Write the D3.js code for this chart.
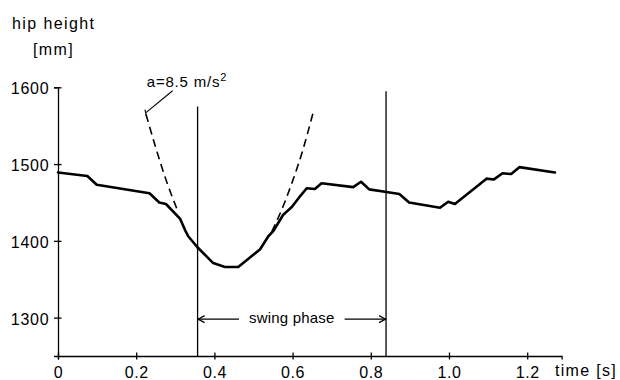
<!DOCTYPE html>
<html>
<head>
<meta charset="utf-8">
<script src="https://cdn.jsdelivr.net/npm/d3@7"></script>
<style>
  html, body { margin: 0; padding: 0; background: #fff; }
  svg { display: block; }
  text { font-family: "Liberation Sans", Arial, sans-serif; fill: #000; }
</style>
</head>
<body>
<svg id="chart" width="620" height="380"></svg>
<script>
// ---- data ----
const timeS = [0.000, 0.075, 0.099, 0.234, 0.259, 0.276, 0.312, 0.325, 0.333, 0.356,
               0.397, 0.427, 0.461, 0.517, 0.538, 0.551, 0.576, 0.598, 0.619, 0.636,
               0.657, 0.674, 0.755, 0.775, 0.796, 0.836, 0.873, 0.898, 0.977, 0.998,
               1.015, 1.096, 1.115, 1.137, 1.159, 1.180, 1.271];
const hipHeightMm = [1489, 1484.5, 1473, 1462, 1450, 1448, 1429, 1414, 1406, 1392,
                     1371, 1366, 1366, 1389, 1406, 1413, 1434, 1444, 1458, 1468.5,
                     1467.5, 1475, 1470, 1477, 1467, 1464, 1461, 1450, 1443, 1451,
                     1448, 1481, 1480, 1488, 1487, 1496, 1489];
// free-fall (a = 8.5 m/s^2) dashed curves
const fallTimeLeft = [0.225, 0.252, 0.280, 0.307];
const fallHeightLeft = [1565, 1518, 1474, 1438];
const fallTimeRight = [0.547, 0.575, 0.600, 0.626, 0.653];
const fallHeightRight = [1412, 1444, 1478, 1518, 1568];
// swing phase boundaries
const phaseTimes = [0.357, 0.839];
const phaseLineTops = [1575, 1595];
const swingArrowHeight = 1298;
const xTicks = [0, 0.2, 0.4, 0.6, 0.8, 1.0, 1.2];
const yTicks = [1300, 1400, 1500, 1600];
const xDomain = [0, 1.288];
const yDomain = [1250, 1600];
const annotation = { t: 0.227, h: 1601, text: "a=8.5 m/s", sup: "2",
                     leaderFrom: [0.293, 1595.5], leaderTo: [0.225, 1567] };

// ---- chart ----
const svg = d3.select("#chart");
const x = d3.scaleLinear().domain(xDomain).range([58, 561.6]);
const y = d3.scaleLinear().domain(yDomain).range([356, 87.3]);
const FONT = 16;

// axes
const gx = svg.append("g").attr("transform", `translate(0,${y(yDomain[0])})`)
  .call(d3.axisBottom(x).tickValues(xTicks).tickSizeOuter(0).tickSize(3.5).tickPadding(8)
    .tickFormat(d => d === 0 ? "0" : d.toFixed(1)));
gx.select(".domain").attr("stroke", "#000").attr("stroke-width", 1.3);
gx.selectAll(".tick line").attr("y1", -3.5).attr("y2", 3.5).attr("stroke-width", 1.3);
gx.selectAll(".tick text").attr("font-size", FONT).attr("font-family", null)
  .attr("letter-spacing", 0.6).attr("dy", "0.68em");

const gy = svg.append("g").attr("transform", `translate(${x(0)},0)`)
  .call(d3.axisLeft(y).tickValues(yTicks).tickSizeOuter(0).tickSize(4).tickPadding(4.5)
    .tickFormat(d3.format("d")));
gy.select(".domain").attr("stroke", "#000").attr("stroke-width", 1.3);
gy.selectAll(".tick line").attr("x1", 3.5).attr("x2", -4).attr("stroke-width", 1.3);
gy.selectAll(".tick text").attr("font-size", FONT).attr("font-family", null)
  .attr("letter-spacing", 0.8).attr("dy", "0.40em");

// axis titles
svg.append("text").attr("x", 12).attr("y", 29).attr("font-size", 16)
  .attr("letter-spacing", 1.4).text("hip height");
svg.append("text").attr("x", 33).attr("y", 55).attr("font-size", 16)
  .attr("letter-spacing", 1.4).text("[mm]");
svg.append("text").attr("x", 555).attr("y", 376).attr("font-size", 16)
  .attr("letter-spacing", 1.3).text("time [s]");

// phase boundary lines
svg.selectAll("line.phase").data(phaseTimes).join("line")
  .attr("class", "phase")
  .attr("x1", d => x(d)).attr("x2", d => x(d))
  .attr("y1", (d, i) => y(phaseLineTops[i])).attr("y2", y(yDomain[0]))
  .attr("stroke", "#000").attr("stroke-width", 1.3);

// dashed free-fall curves
const dashLine = d3.line().x(d => x(d[0])).y(d => y(d[1])).curve(d3.curveNatural);
[[fallTimeLeft, fallHeightLeft], [fallTimeRight, fallHeightRight]].forEach(([ts, hs]) => {
  svg.append("path").datum(ts.map((t, i) => [t, hs[i]]))
    .attr("d", dashLine).attr("fill", "none").attr("stroke", "#000")
    .attr("stroke-width", 1.6).attr("stroke-dasharray", "8,5");
});

// main curve
const mainLine = d3.line().x(d => x(d[0])).y(d => y(d[1]));
svg.append("path").datum(timeS.map((t, i) => [t, hipHeightMm[i]]))
  .attr("d", mainLine).attr("fill", "none").attr("stroke", "#000")
  .attr("stroke-width", 2.6).attr("stroke-linejoin", "round").attr("stroke-linecap", "round");

// annotation
const ann = svg.append("text").attr("x", x(annotation.t)).attr("y", y(annotation.h))
  .attr("font-size", 15).attr("letter-spacing", 0.8);
ann.append("tspan").text(annotation.text);
ann.append("tspan").attr("font-size", 11).attr("dy", -6).text(annotation.sup);
const [lx1, ly1] = [x(annotation.leaderFrom[0]), y(annotation.leaderFrom[1])];
const [lx2, ly2] = [x(annotation.leaderTo[0]), y(annotation.leaderTo[1])];
svg.append("line").attr("x1", lx1).attr("y1", ly1).attr("x2", lx2).attr("y2", ly2)
  .attr("stroke", "#000").attr("stroke-width", 1.1);
svg.append("line").attr("x1", lx2 - 1).attr("y1", ly2 - 3).attr("x2", lx2 + 0.5).attr("y2", ly2 + 4)
  .attr("stroke", "#000").attr("stroke-width", 1.1);

// swing phase arrow
const ay = y(swingArrowHeight);
const xa = x(phaseTimes[0]), xb = x(phaseTimes[1]);
const label = svg.append("text").attr("x", (xa + xb) / 2).attr("y", ay + 4)
  .attr("text-anchor", "middle").attr("font-size", 15).attr("letter-spacing", 0.2)
  .text("swing phase");
const tw = label.node().getComputedTextLength();
const gap = 10;
const tl = (xa + xb) / 2 - tw / 2 - gap, tr = (xa + xb) / 2 + tw / 2 + gap;
svg.append("line").attr("x1", xa).attr("x2", tl).attr("y1", ay).attr("y2", ay)
  .attr("stroke", "#000").attr("stroke-width", 1.2);
svg.append("line").attr("x1", tr).attr("x2", xb).attr("y1", ay).attr("y2", ay)
  .attr("stroke", "#000").attr("stroke-width", 1.2);
svg.append("path").attr("d", `M${xa + 7},${ay - 3.5} L${xa + 0.5},${ay} L${xa + 7},${ay + 3.5}`)
  .attr("fill", "none").attr("stroke", "#000").attr("stroke-width", 1.2);
svg.append("path").attr("d", `M${xb - 7},${ay - 3.5} L${xb - 0.5},${ay} L${xb - 7},${ay + 3.5}`)
  .attr("fill", "none").attr("stroke", "#000").attr("stroke-width", 1.2);
</script>
</body>
</html>
